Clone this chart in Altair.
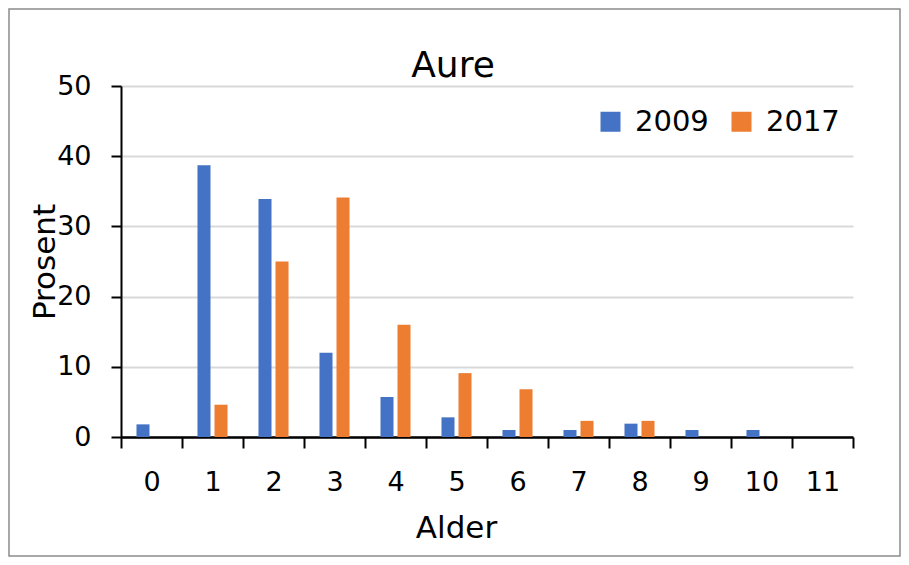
import altair as alt
import pandas as pd

ages = [str(i) for i in range(12)]
v2009 = [1.8, 38.7, 33.9, 12.0, 5.7, 2.8, 1.0, 1.0, 1.9, 1.0, 1.0, 0]
v2017 = [0, 4.6, 25.0, 34.1, 16.0, 9.1, 6.8, 2.3, 2.3, 0, 0, 0]
years = ["2009", "2017"]
colors = ["#4472C4", "#ED7D31"]
y_ticks = [0, 10, 20, 30, 40, 50]

rows = []
for a, p1, p2 in zip(ages, v2009, v2017):
    rows.append({"Alder": a, "År": years[0], "Prosent": p1})
    rows.append({"Alder": a, "År": years[1], "Prosent": p2})
df = pd.DataFrame(rows)

FONT = "DejaVu Sans"
W, H = 732, 351

bars = alt.Chart(df).mark_bar().encode(
    x=alt.X(
        "Alder:N", sort=ages,
        scale=alt.Scale(paddingInner=0, paddingOuter=0),
        axis=alt.Axis(
            title="Alder", labelAngle=0, tickBand="extent", grid=False,
            domainColor="black", domainWidth=2.5, tickColor="black", tickWidth=2,
            tickSize=11, labelPadding=21, labelFontSize=27, labelFont=FONT,
            labelColor="black", titleFont=FONT, titleFontSize=31,
            titleFontWeight="normal", titleColor="black",
            titleX=335, titleY=91, titleBaseline="middle", titleAlign="center",
        ),
    ),
    xOffset=alt.XOffset("År:N", sort=years,
                        scale=alt.Scale(paddingInner=0.235, paddingOuter=0.91)),
    y=alt.Y(
        "Prosent:Q", scale=alt.Scale(domain=[0, 50]),
        axis=alt.Axis(
            title="Prosent", values=y_ticks, grid=True, gridColor="#d9d9d9",
            gridWidth=2, domainColor="black", domainWidth=2, tickColor="black",
            tickWidth=2, tickSize=10, labelPadding=20, labelFontSize=27,
            labelFont=FONT, labelColor="black", titleFont=FONT, titleFontSize=31,
            titleFontWeight="normal", titleColor="black", titleAngle=270,
            titleX=-76, titleY=H / 2, titleBaseline="middle", titleAlign="center",
        ),
    ),
    color=alt.Color(
        "År:N", scale=alt.Scale(domain=years, range=colors),
        legend=alt.Legend(
            title=None, orient="none", legendX=475, legendY=21, padding=0,
            direction="horizontal", symbolType="square", symbolSize=400,
            symbolStrokeWidth=0, labelFontSize=29, labelFont=FONT,
            labelColor="black", labelOffset=10, columnPadding=18,
        ),
    ),
)

frame = alt.Chart(pd.DataFrame({"f": [0]})).mark_rect(
    fillOpacity=0, stroke="#8c8c8c", strokeWidth=1.5
).encode(
    x=alt.value(-112), x2=alt.value(779), y=alt.value(-77), y2=alt.value(470)
)

chart = alt.layer(frame, bars).properties(
    width=W, height=H,
    title=alt.TitleParams(
        "Aure", font=FONT, fontSize=36, fontWeight="normal", color="black",
        anchor="middle", frame="group", dx=-34, dy=115, offset=2, baseline="bottom",
    ),
    autosize=alt.AutoSizeParams(type="none"),
    padding={"left": 113, "top": 78, "right": 48, "bottom": 120},
    background="white",
).configure_view(strokeWidth=0)

chart.save("out.html", embed_options={"renderer": "svg", "actions": False})
